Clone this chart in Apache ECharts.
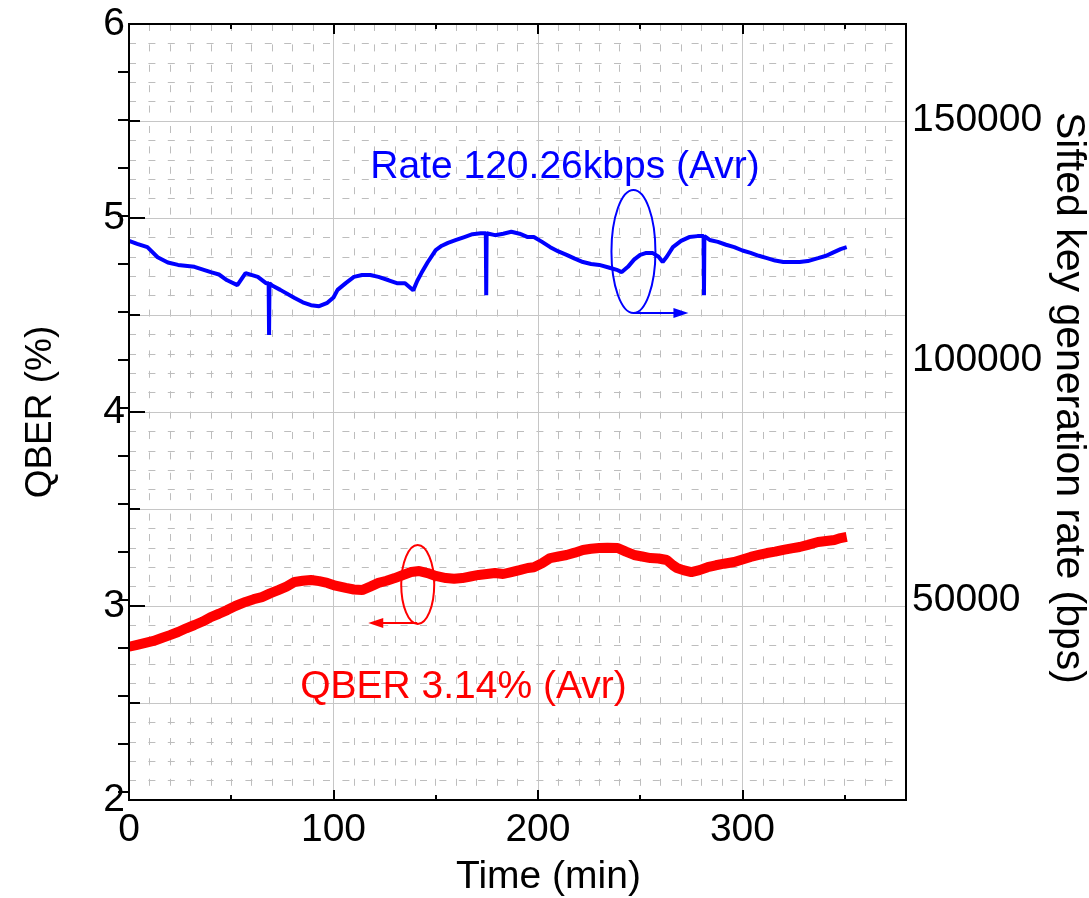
<!DOCTYPE html>
<html>
<head>
<meta charset="utf-8">
<script src="https://cdn.jsdelivr.net/npm/echarts@6/dist/echarts.min.js"></script>
<style>
html,body{margin:0;padding:0;background:#fff;}
#chart{width:1089px;height:898px;}
</style>
</head>
<body>
<div id="chart"></div>
<script>
// ---- data ----
const rateTimes = [0,4,9,14,19,24,32,40,44,48,53,57,63,67,68.3,68.5,68.7,70,74,81,85,89,93,97,100,102,106,110,114,118,122,127,131,135,139,141,143,146,150,153,156,160,164,168,172,174.5,174.7,174.9,179,183,187,191,195,198,202,206,210,214,218,222,226,230,235,239,241,244,247,250,253,256,259,261,263,266,270,274,278,281,281.2,281.4,284,288,292,296,300,304,308,312,316,320,324,328,332,337,341,344,348,351];
const rateValues = [124800,124200,123500,121400,120300,119800,119400,118300,117800,116600,115600,118100,117300,116000,116000,105200,116000,115500,114600,112900,112000,111400,111200,111900,113000,114600,116000,117300,117700,117700,117300,116600,116000,116000,114500,116500,118100,120300,122900,123800,124400,125000,125600,126200,126400,126400,113500,126400,126000,126300,126700,126300,125600,125600,124600,123500,122600,121900,121100,120400,120000,119800,119200,118700,118300,119400,120900,121900,122300,122300,121500,120400,121500,123500,124800,125600,125800,125800,113500,125800,125000,124600,124000,123500,122800,122300,121700,121200,120700,120400,120400,120400,120600,121200,121700,122300,123100,123500];

const qberTimes = [0,4,8,12,16,20,24,28,32,36,40,44,48,52,57,61,65,69,73,77,81,85,89,93,97,101,106,110,114,118,122,126,130,134,138,142,146,150,155,159,163,167,171,175,179,183,187,191,195,198,202,206,210,214,218,222,226,230,234,239,243,247,251,255,259,263,266,268,271,275,279,283,287,291,296,300,304,308,312,316,320,324,328,332,337,341,345,348,351];
const qberValues = [2.79,2.80,2.81,2.82,2.835,2.85,2.866,2.885,2.902,2.92,2.943,2.96,2.979,3.00,3.021,3.035,3.046,3.065,3.082,3.10,3.124,3.13,3.134,3.128,3.119,3.105,3.093,3.085,3.082,3.10,3.119,3.13,3.144,3.16,3.175,3.18,3.17,3.155,3.144,3.14,3.144,3.152,3.16,3.165,3.17,3.165,3.175,3.185,3.196,3.20,3.22,3.247,3.255,3.263,3.275,3.289,3.295,3.299,3.30,3.299,3.28,3.263,3.255,3.247,3.245,3.237,3.21,3.196,3.185,3.175,3.185,3.20,3.21,3.218,3.227,3.24,3.253,3.263,3.273,3.28,3.289,3.297,3.304,3.315,3.33,3.335,3.34,3.35,3.356];

const xMajorTicks = [0,100,200,300];
const xMinorTicks = [50,150,250,350];
const rightTicks = [10000,20000,30000,40000,50000,60000,70000,80000,90000,100000,110000,120000,130000,140000,150000,160000];
const rightLabels = [50000,100000,150000];
const rightTitle = 'Sifted key generation rate (bps)';

// annotation anchors (data units)
const rateNote = {t:118, v:140200, text:'Rate 120.26kbps (Avr)'};
const rateEllipse = {t:246.7, v:122590};
const rateArrow = {t0:246.7, t1:273.6, v:109770};
const qberNote = {t:83.7, q:2.582, text:'QBER 3.14% (Avr)'};
const qberEllipse = {t:141.2, q:3.111};
const qberArrow = {t0:141.0, t1:117.0, q:2.912};

const FONT = '"Liberation Sans", Arial, Helvetica, sans-serif';
const FS = 39;
const rateData = rateTimes.map((t,i)=>[t, rateValues[i]]);
const qberData = qberTimes.map((t,i)=>[t, qberValues[i]]);

const chart = echarts.init(document.getElementById('chart'), null, {renderer:'canvas'});
const blackLine = {color:'#000', width:2};
const hiddenBits = {axisLine:{show:false}, axisTick:{show:false}, axisLabel:{show:false}};
const dashStyleV = {color:'#bdbdbd', width:1, type:[7,13.4]};
const dashStyleH = {color:'#bdbdbd', width:1, type:[7,12.4]};
const solidGrid = {color:'#c6c6c6', width:1};

function tickAxis(extra){
  return Object.assign({type:'value', offset:0, z:6, axisLine:{show:false}, axisLabel:{show:false}, splitLine:{show:false}}, extra);
}

const option = {
  backgroundColor:'#fff',
  animation:false,
  grid:{left:129, top:24, width:777, height:776, containLabel:false, outerBoundsMode:'none'},
  xAxis:[
    {type:'value', position:'bottom', min:0, max:380, interval:100, z:5, offset:0,
     axisLine:{lineStyle:blackLine},
     axisTick:{inside:true, length:10, lineStyle:blackLine, customValues:xMajorTicks},
     axisLabel:{customValues:xMajorTicks, color:'#000', fontSize:FS, fontFamily:FONT, margin:11},
     splitLine:{show:false},
     name:'Time (min)', nameLocation:'middle', nameGap:58,
     nameTextStyle:{color:'#000', fontSize:FS, fontFamily:FONT, padding:[0,0,0,62]}},
    tickAxis({position:'bottom', min:0, max:380, axisTick:{inside:true, length:5, lineStyle:blackLine, customValues:xMinorTicks}}),
    tickAxis({position:'top', min:0, max:380, axisTick:{inside:true, length:10, lineStyle:blackLine, customValues:xMajorTicks}}),
    tickAxis({position:'top', min:0, max:380, axisTick:{inside:true, length:5, lineStyle:blackLine, customValues:xMinorTicks}}),
    Object.assign({type:'value', position:'bottom', offset:0, min:0, max:380, interval:10, z:0,
     splitLine:{show:true, lineStyle:dashStyleV}}, hiddenBits),
    Object.assign({type:'value', position:'bottom', offset:0, min:0, max:380, interval:100, z:1,
     splitLine:{show:true, lineStyle:solidGrid}}, hiddenBits)
  ],
  yAxis:[
    {type:'value', position:'left', min:2, max:6, interval:1, z:5, offset:0,
     axisLine:{lineStyle:blackLine},
     axisTick:{inside:true, length:16, lineStyle:blackLine},
     minorTick:{show:true, splitNumber:2, length:11, lineStyle:blackLine},
     axisLabel:{color:'#000', fontSize:FS, fontFamily:FONT, margin:4},
     splitLine:{show:false},
     name:'QBER (%)', nameLocation:'middle', nameGap:70,
     nameTextStyle:{color:'#000', fontSize:37, fontFamily:FONT}},
    {type:'value', position:'right', min:8300, max:170000, z:5, offset:0,
     axisLine:{lineStyle:blackLine},
     axisTick:{inside:true, length:11, lineStyle:blackLine, customValues:rightTicks},
     axisLabel:{customValues:rightLabels, color:'#000', fontSize:FS, fontFamily:FONT, margin:6,
       formatter:function(v){return String(Math.round(v));}},
     splitLine:{show:false}},
    Object.assign({type:'value', position:'left', offset:0, min:2, max:6, interval:0.1, z:0,
     splitLine:{show:true, lineStyle:dashStyleH}}, hiddenBits),
    Object.assign({type:'value', position:'left', offset:0, min:2, max:6, interval:0.5, z:1,
     splitLine:{show:true, lineStyle:solidGrid}}, hiddenBits)
  ],
  series:[
    {type:'line', name:'QBER', xAxisIndex:0, yAxisIndex:0, data:qberData, showSymbol:false,
     lineStyle:{color:'#ff0000', width:10}, z:3},
    {type:'line', name:'Rate', xAxisIndex:0, yAxisIndex:1, data:rateData, showSymbol:false,
     lineStyle:{color:'#0000ff', width:4}, z:3}
  ]
};
chart.setOption(option);

function px(yIdx, t, v){ return chart.convertToPixel({xAxisIndex:0, yAxisIndex:yIdx}, [t, v]); }
const bT = px(1, rateNote.t, rateNote.v);
const bE = px(1, rateEllipse.t, rateEllipse.v);
const bA0 = px(1, rateArrow.t0, rateArrow.v);
const bA1 = px(1, rateArrow.t1, rateArrow.v);
const rT = px(0, qberNote.t, qberNote.q);
const rE = px(0, qberEllipse.t, qberEllipse.q);
const rA0 = px(0, qberArrow.t0, qberArrow.q);
const rA1 = px(0, qberArrow.t1, qberArrow.q);
const c0 = px(0, 0, 6);
const c1 = px(0, 380, 2);

chart.setOption({
  graphic:[
    {type:'rect', z:50, shape:{x:c0[0], y:c0[1], width:c1[0]-c0[0], height:c1[1]-c0[1]},
     style:{fill:'none', stroke:'#000', lineWidth:2}},
    {type:'text', x:c1[0]+162, y:(c0[1]+c1[1])/2 - 14, rotation:-Math.PI/2, z:10,
     style:{text:rightTitle, fill:'#000', font:'41px '+FONT, textAlign:'center', textVerticalAlign:'middle'}},
    {type:'text', x:bT[0], y:bT[1], z:10,
     style:{text:rateNote.text, fill:'#0000ff', font:FS+'px '+FONT, textAlign:'left', textVerticalAlign:'middle'}},
    {type:'ellipse', z:10, shape:{cx:bE[0], cy:bE[1], rx:22, ry:61.5},
     style:{fill:'none', stroke:'#0000ff', lineWidth:2}},
    {type:'line', z:10, shape:{x1:bA0[0], y1:bA0[1], x2:bA1[0]-12, y2:bA1[1]},
     style:{stroke:'#0000ff', lineWidth:2}},
    {type:'polygon', z:10, shape:{points:[[bA1[0],bA1[1]],[bA1[0]-15,bA1[1]-5],[bA1[0]-15,bA1[1]+5]]},
     style:{fill:'#0000ff'}},
    {type:'text', x:rT[0], y:rT[1], z:10,
     style:{text:qberNote.text, fill:'#ff0000', font:FS+'px '+FONT, textAlign:'left', textVerticalAlign:'middle'}},
    {type:'ellipse', z:10, shape:{cx:rE[0], cy:rE[1], rx:16.5, ry:39.5},
     style:{fill:'none', stroke:'#ff0000', lineWidth:2}},
    {type:'line', z:10, shape:{x1:rA0[0], y1:rA0[1], x2:rA1[0]+12, y2:rA1[1]},
     style:{stroke:'#ff0000', lineWidth:2}},
    {type:'polygon', z:10, shape:{points:[[rA1[0],rA1[1]],[rA1[0]+15,rA1[1]-5],[rA1[0]+15,rA1[1]+5]]},
     style:{fill:'#ff0000'}}
  ]
});
</script>
</body>
</html>
